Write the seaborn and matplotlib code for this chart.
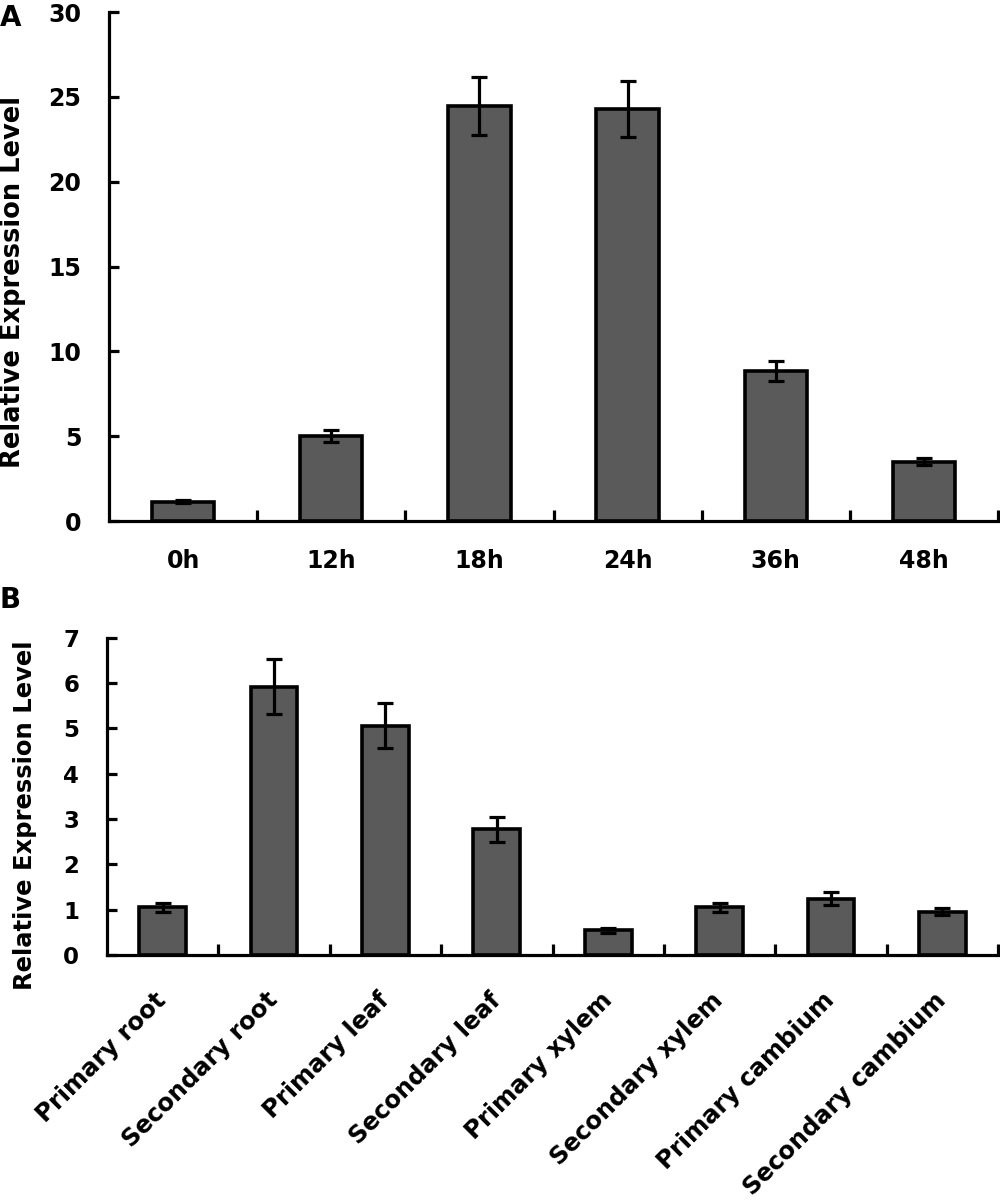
import numpy as np
import pandas as pd
import matplotlib
matplotlib.use('Agg')
import matplotlib.pyplot as plt
import seaborn as sns

# Panel A: time course
time_labels = ['0h', '12h', '18h', '24h', '36h', '48h']
time_values = [1.15, 5.0, 24.45, 24.3, 8.85, 3.5]
time_errors = [0.1, 0.35, 1.7, 1.65, 0.6, 0.2]

# Panel B: tissues
tissue_labels = ['Primary root', 'Secondary root', 'Primary leaf', 'Secondary leaf',
                 'Primary xylem', 'Secondary xylem', 'Primary cambium', 'Secondary cambium']
tissue_values = [1.05, 5.92, 5.06, 2.77, 0.54, 1.05, 1.24, 0.95]
tissue_errors = [0.1, 0.6, 0.5, 0.28, 0.05, 0.1, 0.14, 0.08]

sns.set_theme(style='ticks')
plt.rcParams['font.family'] = ['DejaVu Sans']
plt.rcParams['font.weight'] = 'bold'
for key in ['text.color', 'axes.labelcolor', 'xtick.color', 'ytick.color']:
    plt.rcParams[key] = 'black'

BAR_COLOR = '#5a5a5a'
LW = 2.3


def draw_panel(ax, labels, values, errors, yticks, ylim, fontsize, labelsize):
    df = pd.DataFrame({'cat': labels, 'val': values})
    sns.barplot(data=df, x='cat', y='val', ax=ax, color=BAR_COLOR, width=0.42,
                edgecolor='black', linewidth=2.6, saturation=1, errorbar=None)
    ax.errorbar(np.arange(len(labels)), values, yerr=errors, fmt='none',
                ecolor='black', elinewidth=LW, capsize=6, capthick=LW, zorder=5)
    ax.set_xlim(-0.5, len(labels) - 0.5)
    ax.set_ylim(*ylim)
    ax.set_yticks(yticks)
    ax.set_xlabel('')
    ax.set_ylabel('Relative Expression Level', fontsize=labelsize, fontweight='bold')
    for s in ['top', 'right']:
        ax.spines[s].set_visible(False)
    for s in ['left', 'bottom']:
        ax.spines[s].set_linewidth(LW)
        ax.spines[s].set_color('black')
    ax.tick_params(axis='y', direction='in', length=7, width=LW, labelsize=fontsize, pad=20)
    ax.set_xticks(np.arange(len(labels)) + 0.5, minor=True)
    ax.tick_params(axis='x', which='minor', direction='in', length=8, width=LW)
    ax.tick_params(axis='x', which='major', length=0, labelsize=fontsize)
    for t in ax.get_yticklabels() + ax.get_xticklabels():
        t.set_fontweight('bold')


fig = plt.figure(figsize=(10, 12.01), dpi=100)
ax1 = fig.add_axes([0.109, 0.566, 0.889, 0.424])
ax2 = fig.add_axes([0.107, 0.205, 0.891, 0.264])

draw_panel(ax1, time_labels, time_values, time_errors, range(0, 31, 5), (0, 30), 17, 18.5)
ax1.tick_params(axis='x', which='major', pad=20)
ax1.yaxis.set_label_coords(-0.093, 0.47)

draw_panel(ax2, tissue_labels, tissue_values, tissue_errors, range(0, 8), (0, 7), 16.5, 17.5)
ax2.tick_params(axis='x', which='major', pad=30, labelsize=17.5)
for t in ax2.get_xticklabels():
    t.set_rotation(45)
    t.set_ha('right')
    t.set_va('center')
    t.set_rotation_mode('anchor')
ax2.yaxis.set_label_coords(-0.079, 0.44)

fig.text(0.0, 0.985, 'A', fontsize=20, fontweight='bold', va='center', ha='left')
fig.text(0.0, 0.5, 'B', fontsize=20, fontweight='bold', va='center', ha='left')

fig.savefig('out.png', dpi=100)
